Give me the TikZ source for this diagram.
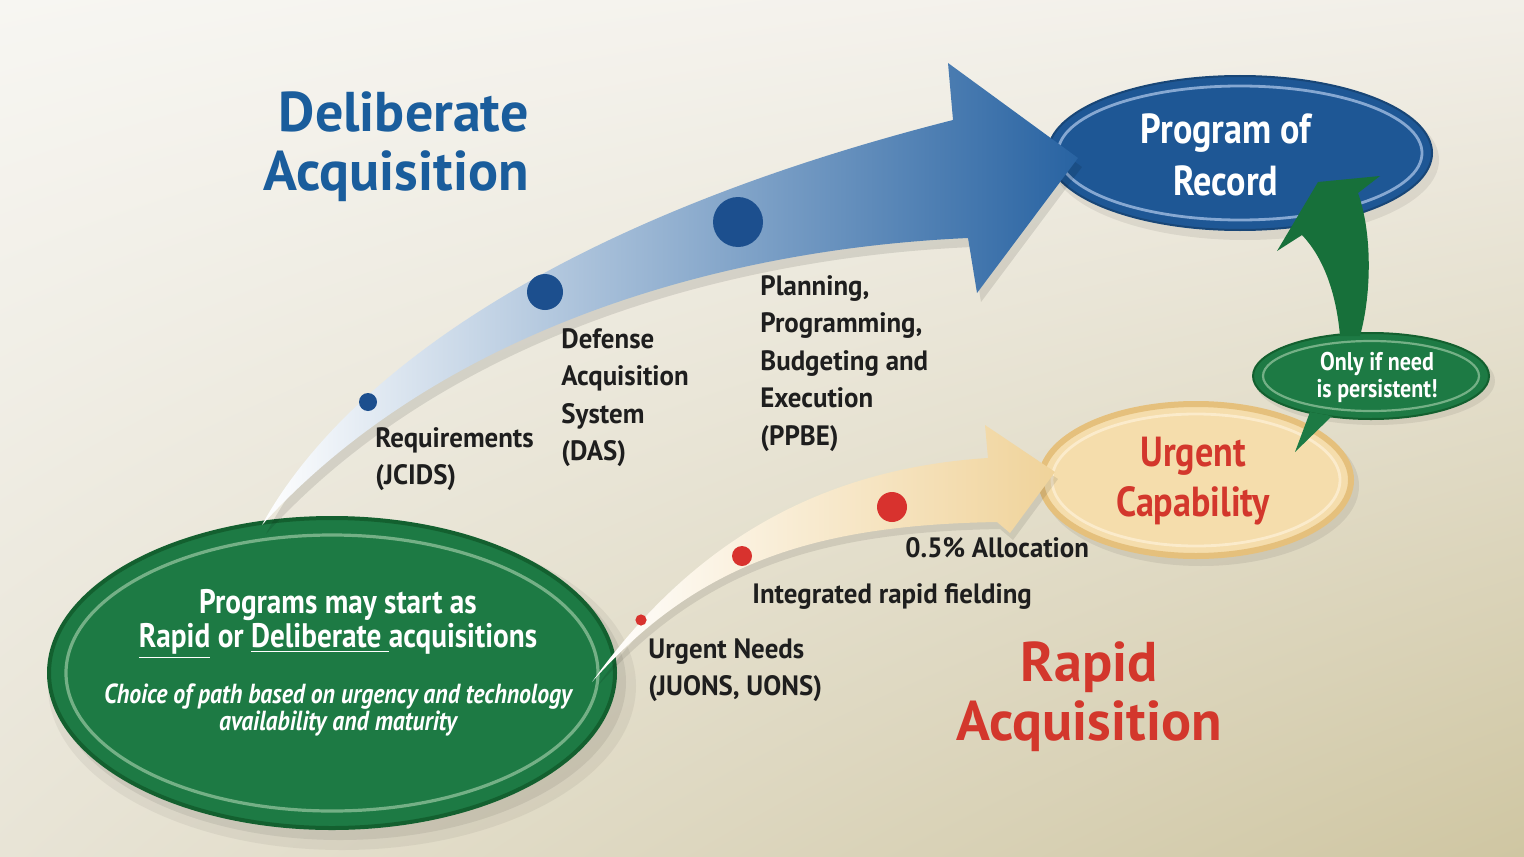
\documentclass[tikz,border=0pt]{standalone}
\usepackage{fontspec}
\setmainfont{PT Sans}
\newfontfamily\cond{PT Sans}[FakeStretch=0.86]
\newfontfamily\condw{PT Sans}[FakeStretch=0.96]
\usetikzlibrary{shapes.geometric,shadings}
\definecolor{bgTL}{HTML}{F7F6F2}
\definecolor{bgTR}{HTML}{F2EFE8}
\definecolor{bgBL}{HTML}{E8E4D6}
\definecolor{bgBR}{HTML}{CFC6A2}
\definecolor{dblue}{HTML}{2863A2}
\definecolor{blueEll}{HTML}{1E5795}
\definecolor{blueRing}{HTML}{86A8D2}
\definecolor{dotBlue}{HTML}{1C4F8E}
\definecolor{gEll}{HTML}{1D7A44}
\definecolor{gDark}{HTML}{13602F}
\definecolor{gRing}{HTML}{74B086}
\definecolor{gArrow}{HTML}{17703A}
\definecolor{tanHead}{HTML}{F0D39A}
\definecolor{tanEll}{HTML}{F5DDAC}
\definecolor{tanRim}{HTML}{E5C07C}
\definecolor{tanRing}{HTML}{FBEBCB}
\definecolor{redDot}{HTML}{D8322E}
\definecolor{redTxt}{HTML}{D3372C}
\definecolor{titleBlue}{HTML}{1A5D9C}
\definecolor{labelC}{HTML}{1E1E1E}
\tikzset{
  lbl/.style={font=\condw\bfseries\fontsize{14}{18.75}\selectfont, text=labelC, align=left, inner sep=0pt, anchor=north west},
  lblone/.style={font=\condw\bfseries\fontsize{14}{18.75}\selectfont, text=labelC, inner sep=0pt, anchor=base west},
  ttl/.style={font=\bfseries\fontsize{28}{29.5}\selectfont, inner sep=0pt},
  ellbox/.style={ellipse, inner sep=0pt},
  shadowell/.style={fill=black, opacity=0.07},
}
\begin{document}
\begin{tikzpicture}[x=0.5pt,y=-0.5pt]
\useasboundingbox (0,0) rectangle (1524,856);
\shade[upper left=bgTL, upper right=bgTR, lower left=bgBL, lower right=bgBR] (0,0) rectangle (1524,856);

% ---------- shadows ----------
\fill[shadowell] (340,682) ellipse [x radius=143pt, y radius=79pt];
\fill[shadowell, opacity=0.05] (342,686) ellipse [x radius=147pt, y radius=82pt];
\fill[shadowell] (1245,160) ellipse [x radius=97pt, y radius=40pt];
\fill[shadowell] (1201,486) ellipse [x radius=79pt, y radius=40pt];
\fill[shadowell] (1375,381) ellipse [x radius=60pt, y radius=22pt];

% ---------- ellipses ----------
\node[ellbox, fill=gEll, draw=gDark, line width=2pt, minimum width=283pt, minimum height=155pt] (start) at (332,673) {};
\draw[gRing, line width=1.6pt] (start.center) ellipse [x radius=133pt, y radius=69pt];

\node[ellbox, fill=blueEll, draw=blueEll!80!black, line width=1pt, minimum width=192pt, minimum height=77pt] (por) at (1240,153) {};
\draw[blueRing, line width=1.4pt] (por.center) ellipse [x radius=91pt, y radius=33.5pt];

\node[ellbox, fill=tanEll, draw=tanRim, line width=3pt, minimum width=155pt, minimum height=76pt] (urg) at (1196,480) {};
\draw[tanRing, line width=1.4pt] (urg.center) ellipse [x radius=72pt, y radius=33pt];

% bubble with pointer
\node[ellbox, fill=gEll, draw=gDark, line width=1pt, minimum width=118pt, minimum height=43pt] (only) at (1371,376) {};
\draw[gRing, line width=1.1pt] (only.center) ellipse [x radius=54pt, y radius=17.5pt];
\fill[gEll] (1310,412) -- (1295,452) -- (1332,416) -- cycle;

% ---------- green curved arrow ----------
\coordinate (ga1) at (1340,336);
\coordinate (ga2) at (1360,336);
\fill[gArrow] (ga1) .. controls (1336,290) and (1322,256) .. (1302,235)
  -- (1277,251) -- (1318,182) -- (1380,176) -- (1358,193)
  .. controls (1372,232) and (1372,292) .. (ga2) -- cycle;

% ---------- deliberate arrow ----------
\coordinate (dTail) at (262,525);
\coordinate (dTip) at (1078,158);
\fill[black, opacity=0.10] ([shift={(4,9)}]dTail) .. controls (330,409) and (520,239) .. (957,129)
  -- (952,72) -- (1082,167) -- (981,302) -- (972,247)
  .. controls (704,259) and (434,349) .. cycle;
\shade[left color=white, middle color=dblue!33!white, right color=dblue]
  (dTail) .. controls (330,400) and (520,230) .. (953,120)
  -- (948,63) -- (dTip) -- (977,293) -- (968,238)
  .. controls (700,250) and (430,340) .. (dTail) -- cycle;
\fill[dotBlue] (368,402) circle[radius=4.5pt];
\fill[dotBlue] (545,292) circle[radius=9pt];
\fill[dotBlue] (738,222) circle[radius=12.5pt];

% ---------- rapid arrow ----------
\coordinate (rTail) at (592,682);
\coordinate (rTip) at (1055,472);
\fill[black, opacity=0.09] ([shift={(3,7)}]rTail) .. controls (683,567) and (803,477) .. (991,465)
  -- (988,432) -- (1058,479) -- (1013,540) -- (1000,529)
  .. controls (823,532) and (703,567) .. cycle;
\shade[left color=white, middle color=tanHead!55!white, right color=tanHead]
  (rTail) .. controls (680,560) and (800,470) .. (988,458)
  -- (985,425) -- (rTip) -- (1010,533) -- (997,522)
  .. controls (820,525) and (700,560) .. (rTail) -- cycle;
\fill[redDot] (641,620) circle[radius=2.8pt];
\fill[redDot] (742,556) circle[radius=5pt];
\fill[redDot] (892,507) circle[radius=7.5pt];

% ---------- titles ----------
\node[ttl, text=titleBlue, align=right, anchor=east] (dtitle) at (529,147) {Deliberate\\Acquisition};
\node[ttl, text=redTxt, align=center] (rtitle) at (1089,697) {Rapid\\Acquisition};

% ---------- ellipse texts ----------
\node[font=\cond\bfseries\fontsize{21}{26}\selectfont, text=white, align=center, inner sep=0pt] (portxt) at (1226,155) {Program of\\Record};
\node[font=\cond\bfseries\fontsize{21}{25}\selectfont, text=redTxt, align=center, inner sep=0pt] (urgtxt) at (1193,481) {Urgent\\Capability};
\node[font=\cond\bfseries\fontsize{12.8}{13.5}\selectfont, text=white, align=center, inner sep=0pt] (onlytxt) at (1377,377) {Only if need\\is persistent!};
\node[font=\cond\bfseries\fontsize{17}{17}\selectfont, text=white, align=center, inner sep=0pt] (st1) at (338,624) {Programs may start as\\\underline{Rapid} or \underline{Deliberate\ }acquisitions};
\node[font=\cond\bfseries\itshape\fontsize{13.8}{13.5}\selectfont, text=white, align=center, inner sep=0pt] (st2) at (338,710) {Choice of path based on urgency and technology\\availability and maturity};

% ---------- labels ----------
\node[lbl] (req) at (375,427) {Requirements\\(JCIDS)};
\node[lbl] (das) at (561,328) {Defense\\Acquisition\\System\\(DAS)};
\node[lbl] (ppbe) at (760,275) {Planning,\\Programming,\\Budgeting and\\Execution\\(PPBE)};
\node[lbl] (uneeds) at (648,638) {Urgent Needs\\(JUONS, UONS)};
\node[lblone] (alloc) at (905,557) {0.5\% Allocation};
\node[lblone] (irf) at (752,603) {Integrated rapid fielding};
\end{tikzpicture}
\end{document}
